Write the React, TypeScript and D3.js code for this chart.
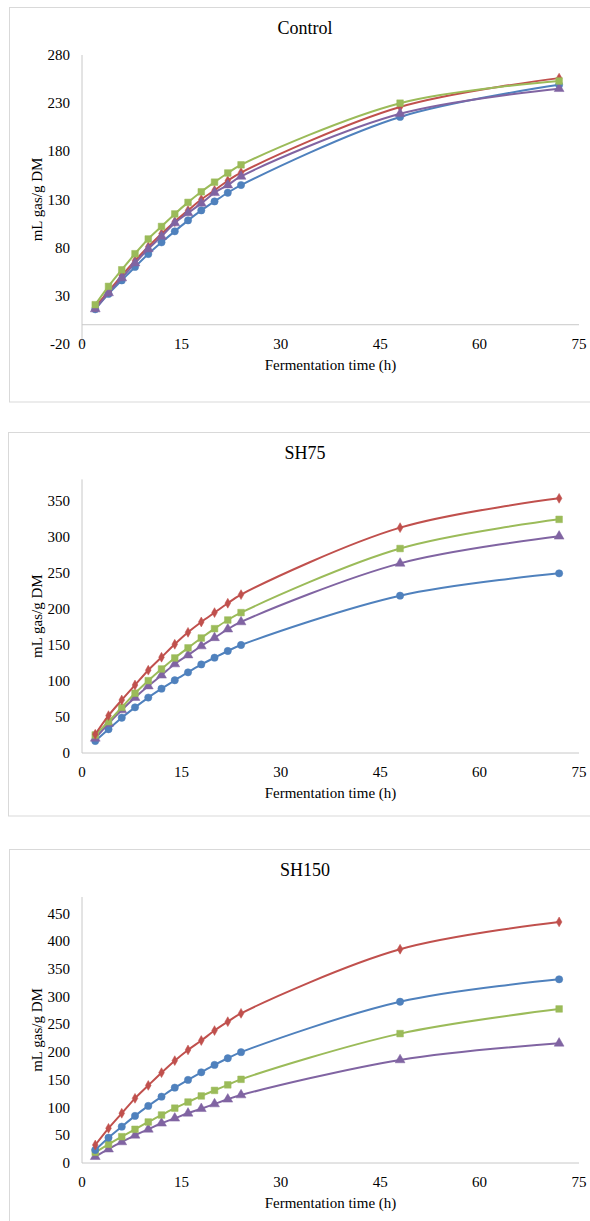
import React from 'react';
import * as d3 from 'd3';

// sampling times (h)
const hours = [2, 4, 6, 8, 10, 12, 14, 16, 18, 20, 22, 24, 48, 72];
const xTicks = [0, 15, 30, 45, 60, 75];

// Control
const controlCircle = [16, 32, 46, 60, 73.4, 85.5, 97, 108.3, 118.7, 128, 137, 145, 215.7, 249];
const controlDiamond = [18.4, 34.6, 51, 66.5, 81, 94.5, 107, 118.7, 130, 139.5, 149.5, 158, 226, 256];
const controlSquare = [20.8, 39.8, 57, 73.7, 89, 102, 115, 127, 138, 148, 157.5, 166, 230, 253];
const controlTriangle = [16.3, 33, 48.5, 64, 78.6, 91.7, 105.6, 116, 126, 137, 145, 154, 219, 245];
const controlTicks = [-20, 30, 80, 130, 180, 230, 280];

// SH75
const sh75Circle = [16.7, 33, 49, 63.4, 77, 89.3, 101, 112, 123, 132.4, 141.7, 150, 218.5, 249.5];
const sh75Diamond = [26, 51.9, 73.6, 94.4, 115, 133, 151, 167.6, 182, 195, 208, 220, 313, 353.7];
const sh75Square = [25, 43.5, 63.4, 83, 100.5, 116.7, 132, 146, 159.7, 172.7, 184.7, 195, 284, 324.5];
const sh75Triangle = [20.4, 41, 59.7, 77, 93, 108, 123.6, 136, 148.6, 160, 172, 182, 263.4, 301];
const sh75Ticks = [0, 50, 100, 150, 200, 250, 300, 350];

// SH150
const sh150Circle = [23.5, 45.7, 65.6, 85, 103, 119.7, 136, 150, 163.7, 177, 189, 200, 291, 331.5];
const sh150Diamond = [32.5, 62.6, 89.7, 116.7, 140, 163, 184.7, 204, 221, 239, 255, 270, 385.7, 435];
const sh150Square = [19.3, 33.7, 47.5, 60.8, 74, 86.6, 99, 110, 121, 131, 141, 151, 233.5, 278];
const sh150Triangle = [11.4, 25, 38, 50, 60.8, 71.7, 80.7, 89.7, 98, 106.5, 115, 122.7, 186, 216];
const sh150Ticks = [0, 50, 100, 150, 200, 250, 300, 350, 400, 450];

const colors = { circle: '#4f81bd', diamond: '#c0504d', square: '#9bbb59', triangle: '#8064a2' };
const symbols = {
  circle: d3.symbolCircle,
  diamond: d3.symbolDiamond,
  square: d3.symbolSquare,
  triangle: d3.symbolTriangle,
};
const symbolSize = { circle: 42, diamond: 28, square: 44, triangle: 42 };

const panels = [
  {
    title: 'Control',
    box: { x: 9.5, y: 7.5, h: 394.5 },
    yDomain: [-20, 280], yRange: [344, 55], ticks: controlTicks,
    series: { circle: controlCircle, diamond: controlDiamond, triangle: controlTriangle, square: controlSquare },
  },
  {
    title: 'SH75',
    box: { x: 8.5, y: 432.5, h: 383.5 },
    yDomain: [0, 380], yRange: [753, 479.4], ticks: sh75Ticks,
    series: { circle: sh75Circle, triangle: sh75Triangle, square: sh75Square, diamond: sh75Diamond },
  },
  {
    title: 'SH150',
    box: { x: 9.5, y: 849.5, h: 400 },
    yDomain: [0, 480], yRange: [1163, 897], ticks: sh150Ticks,
    series: { triangle: sh150Triangle, square: sh150Square, circle: sh150Circle, diamond: sh150Diamond },
  },
];

const font = "'Liberation Serif', 'Times New Roman', serif";

function Panel({ p }) {
  const x = d3.scaleLinear().domain([0, 75]).range([82, 579]);
  const y = d3.scaleLinear().domain(p.yDomain).range(p.yRange);
  const y0 = y(0);
  const line = d3.line().x(d => x(d[0])).y(d => y(d[1])).curve(d3.curveCatmullRom.alpha(0.5));
  const plotTop = p.yRange[1];
  const plotBottom = p.yRange[0];
  const midY = (plotTop + plotBottom) / 2;

  return (
    <g style={{ fontFamily: font }}>
      <rect x={p.box.x} y={p.box.y} width={620} height={p.box.h} fill="#fff" stroke="#d9d9d9" strokeWidth={1} />
      <text x={305} y={p.box.y + 26} textAnchor="middle" fontSize={18} fill="#000">{p.title}</text>

      {/* axes */}
      <line x1={x(0)} x2={x(0)} y1={plotTop} y2={plotBottom} stroke="#c8c8c8" strokeWidth={1} />
      <line x1={x(0)} x2={x(75)} y1={y0} y2={y0} stroke="#c8c8c8" strokeWidth={1} />

      {p.ticks.map(t => (
        <text key={t} x={70} y={y(t) + 5} textAnchor="end" fontSize={15} fill="#000">{t}</text>
      ))}
      {xTicks.map(t => (
        <text key={t} x={x(t)} y={y0 + 24} textAnchor="middle" fontSize={15} fill="#000">{t}</text>
      ))}
      <text x={(x(0) + x(75)) / 2} y={y0 + 45} textAnchor="middle" fontSize={15} fill="#000">Fermentation time (h)</text>
      <text transform={`translate(42,${midY}) rotate(-90)`} textAnchor="middle" fontSize={15} fill="#000">mL gas/g DM</text>

      {Object.entries(p.series).map(([key, vals]) => {
        const pts = hours.map((h, i) => [h, vals[i]]);
        const sym = d3.symbol().type(symbols[key]).size(symbolSize[key]);
        return (
          <g key={key}>
            <path d={line(pts)} fill="none" stroke={colors[key]} strokeWidth={2} />
            {pts.map((d, i) => (
              <path key={i} d={sym()} transform={`translate(${x(d[0])},${y(d[1])})`} fill={colors[key]} stroke={colors[key]} strokeWidth={0.5} />
            ))}
          </g>
        );
      })}
    </g>
  );
}

export default function App() {
  return (
    <svg width={590} height={1221} style={{ position: 'absolute', left: 0, top: 0, display: 'block', background: '#fff' }}>
      <rect width={590} height={1221} fill="#fff" />
      {panels.map(p => <Panel key={p.title} p={p} />)}
    </svg>
  );
}
